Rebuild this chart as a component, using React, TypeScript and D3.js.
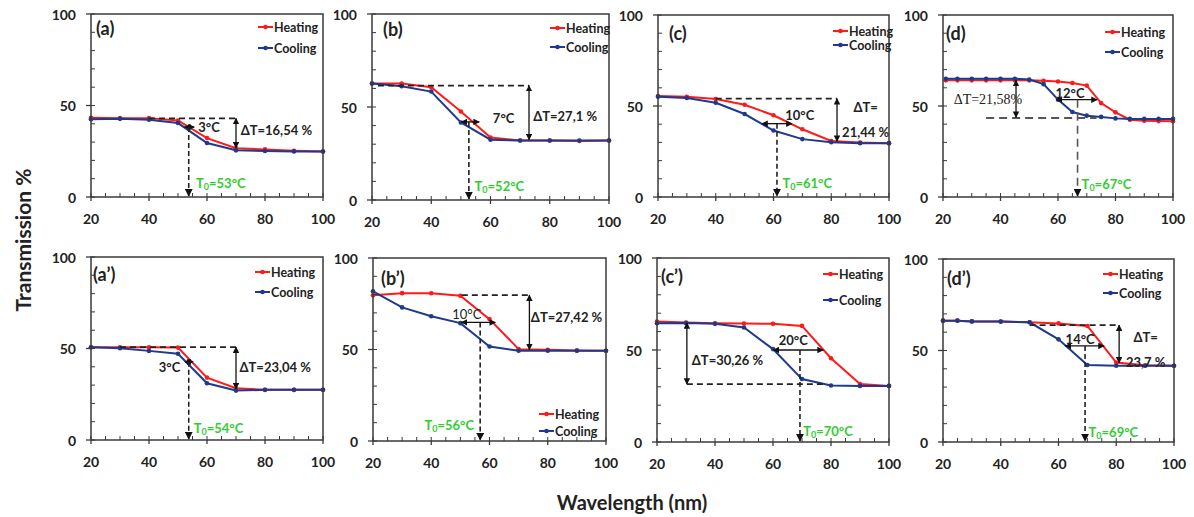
import React from "react";
import * as d3 from "d3";

// ---------- DATA ----------
const xTen = [20, 30, 40, 50, 60, 70, 80, 90, 100];
const xD = [21, 25, 30, 35, 40, 45, 50, 55, 60, 65, 70, 75, 80, 85, 90, 95, 100];
const xDp = [20, 25, 30, 40, 50, 60, 70, 80, 90, 100];

const heatA = [43.3, 43.1, 43.1, 41.8, 32.2, 26.7, 26.0, 25.3, 24.9];
const coolA = [42.5, 42.7, 42.2, 40.4, 29.5, 25.5, 25.1, 24.9, 24.9];
const heatB = [62.6, 62.6, 60.6, 47.6, 33.6, 32.0, 32.0, 31.7, 32.0];
const coolB = [62.6, 61.2, 58.3, 41.7, 32.4, 32.0, 32.0, 32.0, 32.0];
const heatC = [55.5, 55.1, 53.8, 50.7, 44.9, 37.2, 30.8, 29.9, 29.6];
const coolC = [55.1, 54.4, 51.8, 45.6, 36.5, 31.8, 30.1, 29.6, 29.6];
const heatD = [64.1, 64.1, 64.1, 64.1, 64.1, 64.1, 64.1, 63.9, 63.5, 62.6, 61.2, 51.6, 46.5, 42.5, 41.9, 41.7, 41.6];
const coolD = [65.0, 65.0, 65.0, 65.0, 65.0, 65.0, 64.5, 62.0, 53.5, 46.7, 44.7, 44.0, 43.2, 42.9, 42.9, 42.9, 42.9];

const heatAp = [50.7, 50.7, 50.7, 50.5, 34.1, 28.3, 27.4, 27.4, 27.4];
const coolAp = [50.7, 50.2, 48.7, 47.1, 31.0, 27.0, 27.4, 27.4, 27.4];
const heatBp = [79.6, 80.8, 80.7, 79.4, 66.6, 50.2, 49.8, 49.5, 49.3];
const coolBp = [81.8, 73.0, 68.2, 64.4, 51.6, 49.3, 49.3, 49.3, 49.3];
const heatCp = [65.5, 64.9, 64.5, 64.4, 64.2, 63.1, 45.5, 31.5, 30.5];
const coolCp = [64.5, 64.7, 64.2, 62.2, 50.5, 34.2, 30.7, 30.5, 30.5];
const heatDp = [66.3, 66.3, 65.9, 65.8, 65.4, 64.8, 63.4, 43.4, 41.9, 41.7];
const coolDp = [66.3, 66.3, 65.9, 65.8, 65.4, 56.1, 42.1, 41.7, 41.7, 41.7];

const xMajorTicks = [20, 40, 60, 80, 100];
const yMajorTicks = [0, 50, 100];
const seriesNames = ["Heating", "Cooling"];

// annotations in data units
type Ann = {
  label: string;
  hDash: [number, number, number]; // y, x1, x2
  dT: [number, number, number]; // x, y1, y2
  dTText: { lines: string[]; x: number; y: number; anchor: string; serif?: boolean };
  dC: [number, number, number]; // y, x1, x2
  dCText: { text: string; x: number; y: number; anchor: string; normal?: boolean };
  t0: [number, number]; // x, yTop
  t0Text: { text: string; x: number; y: number; anchor: string };
  gray?: boolean;
};

const annA: Ann = {
  label: "(a)", hDash: [43, 40, 70], dT: [70, 43, 26.9],
  dTText: { lines: ["ΔT=16,54 %"], x: 71.6, y: 36.7, anchor: "start" },
  dC: [38.2, 52.3, 55.6], dCText: { text: "3°C", x: 57, y: 38.5, anchor: "start" },
  t0: [53.7, 38.2], t0Text: { text: "=53°C", x: 56.2, y: 7.8, anchor: "start" },
};
const annB: Ann = {
  label: "(b)", hDash: [61.5, 22, 73], dT: [73, 61.5, 32.4],
  dTText: { lines: ["ΔT=27,1 %"], x: 74.4, y: 45, anchor: "start" },
  dC: [42, 50.2, 56.2], dCText: { text: "7°C", x: 60.8, y: 44, anchor: "start" },
  t0: [52.7, 42], t0Text: { text: "=52°C", x: 54.6, y: 7.3, anchor: "start" },
};
const annC: Ann = {
  label: "(c)", hDash: [54, 40, 82], dT: [82, 54, 30.6],
  dTText: { lines: ["ΔT=", "21,44 %"], x: 91.9, y: 49.6, anchor: "middle" },
  dC: [40.3, 56, 66.4], dCText: { text: "10°C", x: 69.1, y: 45, anchor: "middle" },
  t0: [61.2, 40.3], t0Text: { text: "=61°C", x: 63.1, y: 7.7, anchor: "start" },
};
const annD: Ann = {
  label: "(d)", hDash: [43.4, 35, 73.4], dT: [45.4, 64.1, 43.8],
  dTText: { lines: ["ΔT=21,58%"], x: 23.7, y: 53.8, anchor: "start", serif: true },
  dC: [53.5, 59.5, 73.6], dCText: { text: "12°C", x: 64.2, y: 57, anchor: "middle" },
  t0: [66.8, 53.5], t0Text: { text: "=67°C", x: 68.2, y: 7.2, anchor: "start" },
  gray: true,
};
const annAp: Ann = {
  label: "(a’)", hDash: [50.7, 30, 70], dT: [70, 50.7, 28],
  dTText: { lines: ["ΔT=23,04 %"], x: 71.2, y: 40.1, anchor: "start" },
  dC: [42.7, 52.4, 55.2], dCText: { text: "3°C", x: 50.8, y: 40.1, anchor: "end" },
  t0: [53.7, 42.7], t0Text: { text: "=54°C", x: 55.4, y: 6.4, anchor: "start" },
};
const annBp: Ann = {
  label: "(b’)", hDash: [79.7, 50.5, 73.7], dT: [73.7, 79.7, 49.9],
  dTText: { lines: ["ΔT=27,42 %"], x: 74.2, y: 68, anchor: "start" },
  dC: [64.8, 50.3, 62], dCText: { text: "10°C", x: 52.2, y: 69.5, anchor: "middle", normal: true },
  t0: [56.8, 64.8], t0Text: { text: "=56°C", x: 54.7, y: 8.8, anchor: "end" },
};
const annCp: Ann = {
  label: "(c’)", hDash: [31.5, 30.3, 78.5], dT: [30.3, 64.7, 31.5],
  dTText: { lines: ["ΔT=30,26 %"], x: 32, y: 44.5, anchor: "start" },
  dC: [50, 60.1, 77.3], dCText: { text: "20°C", x: 67, y: 55.5, anchor: "middle" },
  t0: [69.3, 50], t0Text: { text: "=70°C", x: 70.4, y: 6, anchor: "start" },
};
const annDp: Ann = {
  label: "(d’)", hDash: [63.9, 50, 81], dT: [81, 63.9, 43.2],
  dTText: { lines: ["ΔT=", "23,7 %"], x: 90.2, y: 57.2, anchor: "middle" },
  dC: [52.5, 62.3, 75.8], dCText: { text: "14°C", x: 67.5, y: 56.1, anchor: "middle" },
  t0: [69.2, 52.5], t0Text: { text: "=69°C", x: 70.4, y: 5.6, anchor: "start" },
};

// ---------- LAYOUT ----------
type PanelCfg = {
  box: [number, number, number, number]; // left, top, right, bottom
  xs: number[]; heat: number[]; cool: number[]; ann: Ann;
  legend: [number, number, number]; // lineX, heatY, coolY
  labelPos: [number, number];
};

const panels: PanelCfg[] = [
  { box: [91, 14, 323, 197], xs: xTen, heat: heatA, cool: coolA, ann: annA, legend: [258, 27, 48], labelPos: [96, 28] },
  { box: [372, 14, 609, 200], xs: xTen, heat: heatB, cool: coolB, ann: annB, legend: [550, 28, 47], labelPos: [383, 29] },
  { box: [658, 15, 889, 197], xs: xTen, heat: heatC, cool: coolC, ann: annC, legend: [833, 31, 45], labelPos: [669, 33] },
  { box: [943, 15, 1173, 197], xs: xD, heat: heatD, cool: coolD, ann: annD, legend: [1105, 32, 52], labelPos: [946, 33] },
  { box: [91, 257, 323, 440], xs: xTen, heat: heatAp, cool: coolAp, ann: annAp, legend: [255, 272, 292], labelPos: [93, 274] },
  { box: [373, 258, 606, 441], xs: xTen, heat: heatBp, cool: coolBp, ann: annBp, legend: [539, 414, 431], labelPos: [381, 278] },
  { box: [657, 258, 889, 442], xs: xTen, heat: heatCp, cool: coolCp, ann: annCp, legend: [823, 274, 300], labelPos: [661, 276] },
  { box: [943, 259, 1174, 442], xs: xDp, heat: heatDp, cool: coolDp, ann: annDp, legend: [1103, 274, 293], labelPos: [947, 278] },
];

const FONT = "Lato, 'Liberation Sans', Arial, sans-serif";
const RED = "#ff1a1a";
const BLUE = "#1f3a8a";
const GREEN = "#33cc33";
const AXIS = "#3a3a3a";

function Panel({ cfg, idx }: { cfg: PanelCfg; idx: number }) {
  const [l, t, r, b] = cfg.box;
  const x = d3.scaleLinear().domain([20, 100]).range([l, r]);
  const y = d3.scaleLinear().domain([0, 100]).range([b, t]);
  const line = d3.line<[number, number]>().x((d) => x(d[0])).y((d) => y(d[1]));
  const hPts = cfg.xs.map((v, i) => [v, cfg.heat[i]] as [number, number]);
  const cPts = cfg.xs.map((v, i) => [v, cfg.cool[i]] as [number, number]);
  const a = cfg.ann;
  const dashCol = a.gray ? "#555" : "#222";
  const dash = a.gray ? "8,5" : "6,4";
  const minorX = d3.range(20, 101, 5);
  const minorY = d3.range(0, 101, 10);
  const [lx, hy, cy] = cfg.legend;
  return (
    <g>
      {/* lines */}
      <path d={line(hPts) || ""} fill="none" stroke={RED} strokeWidth={2} />
      {hPts.map((p, i) => (
        <circle key={"h" + i} cx={x(p[0])} cy={y(p[1])} r={2.3} fill={RED} />
      ))}
      <path d={line(cPts) || ""} fill="none" stroke={BLUE} strokeWidth={2} />
      {cPts.map((p, i) => (
        <circle key={"c" + i} cx={x(p[0])} cy={y(p[1])} r={2.3} fill={BLUE} />
      ))}

      {/* annotations */}
      <line x1={x(a.hDash[1])} x2={x(a.hDash[2])} y1={y(a.hDash[0])} y2={y(a.hDash[0])}
        stroke={dashCol} strokeWidth={1.8} strokeDasharray={dash} />
      <line x1={x(a.dT[0])} x2={x(a.dT[0])} y1={y(a.dT[1])} y2={y(a.dT[2])}
        stroke="#111" strokeWidth={1.3} markerStart="url(#arr)" markerEnd="url(#arr)" />
      <line x1={x(a.dC[1])} x2={x(a.dC[2])} y1={y(a.dC[0])} y2={y(a.dC[0])}
        stroke="#111" strokeWidth={1.3} markerStart="url(#arr)" markerEnd="url(#arr)" />
      <line x1={x(a.t0[0])} x2={x(a.t0[0])} y1={y(a.t0[1])} y2={y(0) - 1}
        stroke={dashCol} strokeWidth={1.6} strokeDasharray={a.gray ? "8,5" : "5,3"} markerEnd="url(#arr)" />

      {a.dTText.lines.map((s, i) => (
        <text key={"dt" + i} x={x(a.dTText.x)} y={y(a.dTText.y) + i * 25}
          textAnchor={a.dTText.anchor as any} dominantBaseline="central"
          fontFamily={a.dTText.serif ? "'Liberation Serif', 'Times New Roman', serif" : FONT}
          fontWeight={a.dTText.serif ? "normal" : "bold"} fontSize={a.dTText.serif ? 14 : 13} fill="#222">
          {s}
        </text>
      ))}
      <text x={x(a.dCText.x)} y={y(a.dCText.y)} textAnchor={a.dCText.anchor as any}
        dominantBaseline="central" fontFamily={FONT} fontWeight={a.dCText.normal ? "normal" : "bold"}
        fontSize={13} fill="#222">
        {a.dCText.text}
      </text>
      <text x={x(a.t0Text.x)} y={y(a.t0Text.y)} textAnchor={a.t0Text.anchor as any}
        dominantBaseline="central" fontFamily={FONT} fontWeight="bold" fontSize={13} fill={GREEN}>
        <tspan>T</tspan>
        <tspan fontSize={9} dy={3}>0</tspan>
        <tspan dy={-3}>{a.t0Text.text}</tspan>
      </text>

      {/* frame */}
      <rect x={l} y={t} width={r - l} height={b - t} fill="none" stroke={AXIS} strokeWidth={1.5} />
      {minorY.map((v) => (
        <line key={"my" + v} x1={l} x2={l + 4} y1={y(v)} y2={y(v)} stroke={AXIS} strokeWidth={1} />
      ))}
      {yMajorTicks.map((v) => (
        <g key={"Y" + v}>
          <line x1={l - 5} x2={l} y1={y(v)} y2={y(v)} stroke={AXIS} strokeWidth={1.3} />
          <text x={l - 15} y={y(v)} textAnchor="end" dominantBaseline="central"
            fontFamily={FONT} fontWeight="bold" fontSize={14} fill="#222">{v}</text>
        </g>
      ))}
      {minorX.map((v) => (
        <line key={"mx" + v} x1={x(v)} x2={x(v)} y1={b} y2={b - 4} stroke={AXIS} strokeWidth={1} />
      ))}
      {xMajorTicks.map((v) => (
        <g key={"X" + v}>
          <line x1={x(v)} x2={x(v)} y1={b} y2={b + 4} stroke={AXIS} strokeWidth={1.3} />
          <text x={x(v)} y={b + 21} textAnchor="middle" dominantBaseline="central"
            fontFamily={FONT} fontWeight="bold" fontSize={14} fill="#222">{v}</text>
        </g>
      ))}

      {/* panel label */}
      <text x={cfg.labelPos[0]} y={cfg.labelPos[1]} dominantBaseline="central"
        fontFamily={FONT} fontWeight="bold" fontSize={18} fill="#222">{a.label}</text>

      {/* legend */}
      {[hy, cy].map((ly, i) => (
        <g key={"lg" + i}>
          <line x1={lx} x2={lx + 15} y1={ly} y2={ly} stroke={i === 0 ? RED : BLUE} strokeWidth={2} />
          <circle cx={lx + 7.5} cy={ly} r={2.3} fill={i === 0 ? RED : BLUE} />
          <text x={lx + 16} y={ly} dominantBaseline="central" fontFamily={FONT}
            fontWeight="bold" fontSize={12.5} fill="#222">{seriesNames[i]}</text>
        </g>
      ))}
    </g>
  );
}

export default function App() {
  return (
    <svg width={1194} height={517} style={{ position: "absolute", left: 0, top: 0, background: "#fff" }}>
      <defs>
        <marker id="arr" viewBox="0 0 10 10" refX="9" refY="5" markerWidth="5" markerHeight="5"
          orient="auto-start-reverse" markerUnits="strokeWidth">
          <path d="M0,0 L10,5 L0,10 z" fill="#111" />
        </marker>
      </defs>
      <rect x={0} y={0} width={1194} height={517} fill="#fff" />
      {panels.map((p, i) => (
        <Panel key={i} cfg={p} idx={i} />
      ))}
      <text x={22} y={240} transform="rotate(-90 22 240)" textAnchor="middle" dominantBaseline="central"
        fontFamily={FONT} fontWeight="bold" fontSize={21} fill="#222">Transmission %</text>
      <text x={632} y={502} textAnchor="middle" dominantBaseline="central"
        fontFamily={FONT} fontWeight="bold" fontSize={20} fill="#222">Wavelength (nm)</text>
    </svg>
  );
}
